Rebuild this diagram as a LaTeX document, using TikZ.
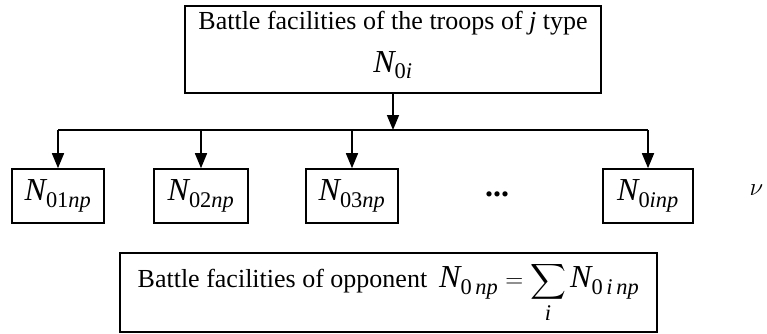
\documentclass[tikz,border=0pt]{standalone}
\usepackage{amsmath}
\usepackage{fontspec}
\setmainfont{Liberation Serif}
\usetikzlibrary{arrows.meta}
\newcommand{\Nsub}[1]{$\textit{N}_{\text{#1}}$}
\tikzset{
  unitbox/.style={draw, line width=1.6pt, inner sep=0pt},
  feed/.style={-{Triangle[length=15pt,width=12pt]}, line width=1.6pt},
  big/.style={font=\fontsize{32}{34}\selectfont},
}
\begin{document}
\begin{tikzpicture}[x=1pt, y=-1pt, font=\fontsize{26}{30}\selectfont]
    \useasboundingbox (0,0) rectangle (767,334);
    % Battle facilities of type j
    \node[unitbox, minimum width=416pt, minimum height=87pt] (src) at (393,49.5) {};
    \node (srctxt) at (393,23) {Battle facilities of the troops of \textit{j} type};
    \node[big] (srcN) at (393,65) {\Nsub{0\textit{i}}};

    % Units of the opponent
    \node[unitbox, big, minimum width=92pt, minimum height=54pt] (u1) at (58,196) {\Nsub{01\textit{np}}};
    \node[unitbox, big, minimum width=94pt, minimum height=54pt] (u2) at (201,196) {\Nsub{02\textit{np}}};
    \node[unitbox, big, minimum width=92pt, minimum height=54pt] (u3) at (352,196) {\Nsub{03\textit{np}}};
    \node[big] (dots) at (497,194) {\textbf{...}};
    \node[unitbox, big, minimum width=90pt, minimum height=54pt] (ui) at (648,196) {\Nsub{0\textit{inp}}};
    \node[font=\fontsize{38}{40}\selectfont, anchor=west] (nu) at (746,190) {$\nu$};

    % Distribution bar
    \coordinate (split) at (393,130);
    \draw[feed] (src.south) -- (split);
    \draw[line width=1.6pt] (u1.north |- split) -- (ui.north |- split);
    \foreach \u in {u1,u2,u3,ui}
        \draw[feed] (\u.north |- split) -- (\u.north);

    % Total of the opponent
    \node[unitbox, minimum width=537pt, minimum height=79pt] (total) at (388.5,292.5)
        {Battle facilities of opponent\hspace{12pt}{\fontsize{32}{34}\selectfont$\displaystyle \textit{N}_{\text{0\,\textit{np}}} = \sum_{\textit{i}} \textit{N}_{\text{0\,\textit{i}\,\textit{np}}}$}};
\end{tikzpicture}
\end{document}
